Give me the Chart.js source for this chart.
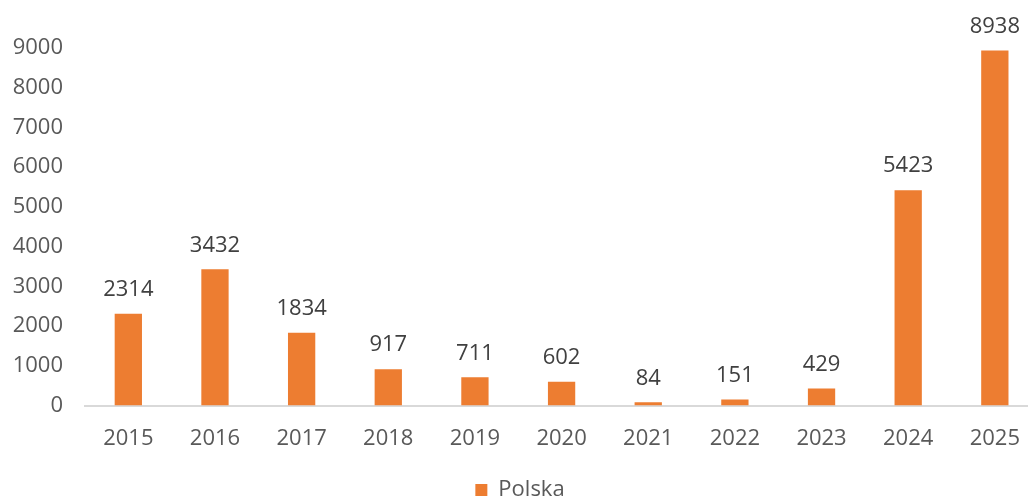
<!DOCTYPE html>
<html>
<head>
<meta charset="utf-8">
<script src="https://cdn.jsdelivr.net/npm/chart.js@4/dist/chart.umd.min.js"></script>
<style>
  html, body { margin: 0; padding: 0; background: #fff; overflow: hidden; }
  #wrap { width: 1040px; height: 511px; }
</style>
</head>
<body>
<div id="wrap"><canvas id="grafico"></canvas></div>
<script>
const lata = ['2015', '2016', '2017', '2018', '2019', '2020', '2021', '2022', '2023', '2024', '2025'];
const polska = [2314, 3432, 1834, 917, 711, 602, 84, 151, 429, 5423, 8938];
const nazwaSerii = 'Polska';

const FONT = '"Open Sans", "Noto Sans", sans-serif';

// etykiety wartosci nad slupkami
const etykiety = {
  id: 'etykiety',
  afterDatasetsDraw(chart) {
    const ctx = chart.ctx;
    const meta = chart.getDatasetMeta(0);
    ctx.save();
    ctx.font = '22px ' + FONT;
    ctx.fillStyle = '#404040';
    ctx.textAlign = 'center';
    ctx.textBaseline = 'bottom';
    meta.data.forEach((bar, i) => {
      ctx.fillText(String(chart.data.datasets[0].data[i]), bar.x, bar.y - 13);
    });
    ctx.restore();
  }
};

new Chart(document.getElementById('grafico'), {
  type: 'bar',
  data: {
    labels: lata,
    datasets: [{
      label: nazwaSerii,
      data: polska,
      backgroundColor: '#ED7D31',
      borderWidth: 0,
      barPercentage: 1,
      categoryPercentage: 0.315
    }]
  },
  options: {
    responsive: true,
    maintainAspectRatio: false,
    animation: false,
    layout: { padding: { top: 48, left: 0, right: 0, bottom: 0 } },
    plugins: {
      tooltip: { enabled: false },
      legend: {
        position: 'bottom',
        labels: {
          boxWidth: 12, boxHeight: 12,
          color: '#595959',
          font: { family: FONT, size: 22 },
          padding: 0
        }
      }
    },
    scales: {
      x: {
        afterFit(scale) { scale.height += 7; },
        grid: { display: false, drawTicks: false },
        border: { display: true, color: '#d9d9d9', width: 2 },
        ticks: { color: '#595959', font: { family: FONT, size: 22 }, padding: 20 }
      },
      y: {
        min: 0, max: 9000,
        afterFit(scale) { scale.width = 85; },
        grid: { display: false, drawTicks: false },
        border: { display: false },
        ticks: {
          stepSize: 1000, color: '#595959', font: { family: FONT, size: 22 }, padding: 22,
          callback: v => String(v)
        }
      }
    }
  },
  plugins: [etykiety]
});
</script>
</body>
</html>
